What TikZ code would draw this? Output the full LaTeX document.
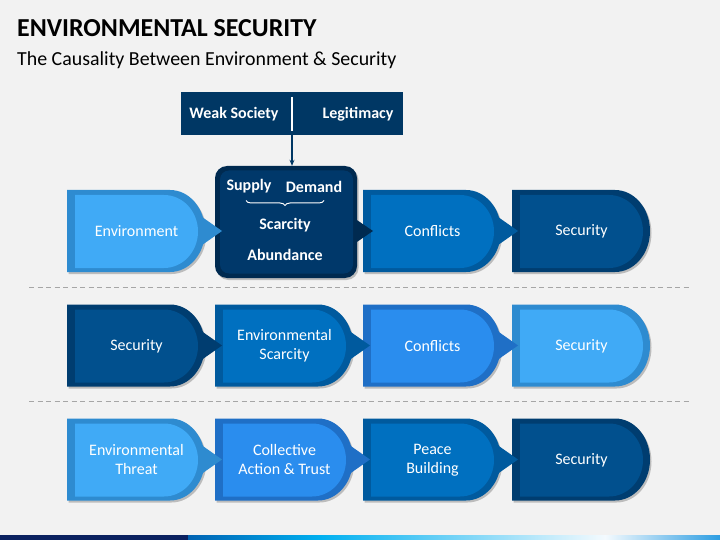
\documentclass[tikz,border=0pt]{standalone}
\usepackage{fontspec}
\setmainfont{Carlito}
\usetikzlibrary{shadows,decorations.pathreplacing,arrows.meta}
\definecolor{bg}{HTML}{F2F2F2}
\definecolor{Lin}{HTML}{40AAF6}
\definecolor{Lout}{HTML}{2E8BD0}
\definecolor{Bin}{HTML}{2A8DEE}
\definecolor{Bout}{HTML}{1F6FC6}
\definecolor{Min}{HTML}{0070C0}
\definecolor{Mout}{HTML}{005A9E}
\definecolor{Din}{HTML}{01508E}
\definecolor{Dout}{HTML}{003D70}
\definecolor{Nin}{HTML}{00386A}
\definecolor{Nout}{HTML}{002A50}
\definecolor{Ntop}{HTML}{003764}
\definecolor{dashcol}{HTML}{A6A6A6}
\definecolor{barnavy}{HTML}{0B2160}
\definecolor{barA}{HTML}{0062B2}
\definecolor{barB}{HTML}{00B0F0}
\definecolor{barC}{HTML}{F4FAFE}
\definecolor{barD}{HTML}{2C9DE2}
\tikzset{
  shapetext/.style={text=white, align=center, font=\fontsize{16}{19}\selectfont, inner sep=0pt},
  boldtext/.style={text=white, align=center, font=\bfseries\fontsize{16}{19}\selectfont, inner sep=0pt},
  softshadow/.style={drop shadow={shadow xshift=1.5pt, shadow yshift=-2pt, opacity=.22, fill=black}},
  dashline/.style={draw=dashcol, line width=0.8pt, dash pattern=on 5pt off 3.5pt}
}
% #1 name, #2 x, #3 y, #4 outer, #5 inner, #6 text, #7 pointer (1/0)
\newcommand\dshp[7]{%
  \begin{scope}[shift={(#2,#3)}]
    \fill[#4, softshadow] (0,-41) -- (103,-41) arc[start angle=-90, end angle=90, x radius=35, y radius=41] -- (0,41) -- cycle;
    \ifnum#7=1 \fill[#4] (118,-26) -- (155,0) -- (118,26) -- cycle;\fi
    \fill[#5] (8,-36) -- (97,-36) arc[start angle=-90, end angle=90, x radius=34, y radius=36.5] -- (8,37) -- cycle;
    \node[shapetext] (#1) at (69.5,0.5) {#6};
  \end{scope}}
\begin{document}
\begin{tikzpicture}[x=1pt,y=-1pt]
\fill[bg] (0,0) rectangle (720,540);
\useasboundingbox (0,0) rectangle (720,540);
% titles
\node[anchor=base west, inner sep=0pt, font=\bfseries\fontsize{25.9}{30}\selectfont] (title) at (17,37) {ENVIRONMENTAL SECURITY};
\node[anchor=base west, inner sep=0pt, font=\fontsize{19.9}{23}\selectfont] (subtitle) at (17,65.5) {The Causality Between Environment \& Security};
% top box
\node[fill=Ntop, minimum width=222pt, minimum height=43pt, inner sep=0pt] (top) at (292,113.5) {};
\draw[white, line width=1.5pt] (292,97) -- (292,131);
\node[boldtext] (weak) at (234,114) {Weak Society};
\node[boldtext] (legit) at (358,114) {Legitimacy};
% dashed separators
\draw[dashline] (29,287) -- (690,287);
\draw[dashline] (29,401) -- (690,401);
% row 1
\dshp{r1d}{512}{231}{Dout}{Din}{Security}{0}
\dshp{r1c}{363}{231}{Mout}{Min}{Conflicts}{1}
\node[fill=Nout, rounded corners=12pt, minimum width=142pt, minimum height=112pt, inner sep=0pt, softshadow] (mid) at (286,222) {};
\fill[Nout] (348,214) -- (373,231) -- (348,248) -- cycle;
\fill[Nin, rounded corners=9pt] (220,170.5) rectangle (353,273.5);
\node[boldtext] (supply) at (249,186.5) {Supply};
\node[boldtext] (demand) at (314,186.5) {Demand};
\draw[white, line width=1pt, decorate, decoration={brace, mirror, amplitude=5pt}] (246,200.5) -- (324,200.5);
\node[boldtext] (scarcity) at (285,225.5) {Scarcity};
\node[boldtext] (abund) at (285,254.5) {Abundance};
\draw[Ntop, line width=1.3pt, -{Stealth[length=6pt,width=5pt]}] (top.south) -- (top.south |- mid.north);
\dshp{r1a}{67}{231}{Lout}{Lin}{Environment}{1}
% row 2
\dshp{r2d}{512}{345.5}{Lout}{Lin}{Security}{0}
\dshp{r2c}{363}{345.5}{Bout}{Bin}{Conflicts}{1}
\dshp{r2b}{215}{345.5}{Mout}{Min}{Environmental\\Scarcity}{1}
\dshp{r2a}{67}{345.5}{Dout}{Din}{Security}{1}
% row 3
\dshp{r3d}{512}{459.5}{Dout}{Din}{Security}{0}
\dshp{r3c}{363}{459.5}{Mout}{Min}{Peace\\Building}{1}
\dshp{r3b}{215}{459.5}{Bout}{Bin}{Collective\\Action \& Trust}{1}
\dshp{r3a}{67}{459.5}{Lout}{Lin}{Environmental\\Threat}{1}
% bottom bar
\fill[barnavy] (0,535) rectangle (188.5,540);
\shade[left color=barA, right color=barB] (188,535) rectangle (320.5,540);
\shade[left color=barB, right color=barC] (320,535) rectangle (605.5,540);
\shade[left color=barC, right color=barD] (605,535) rectangle (720,540);
\end{tikzpicture}
\end{document}
